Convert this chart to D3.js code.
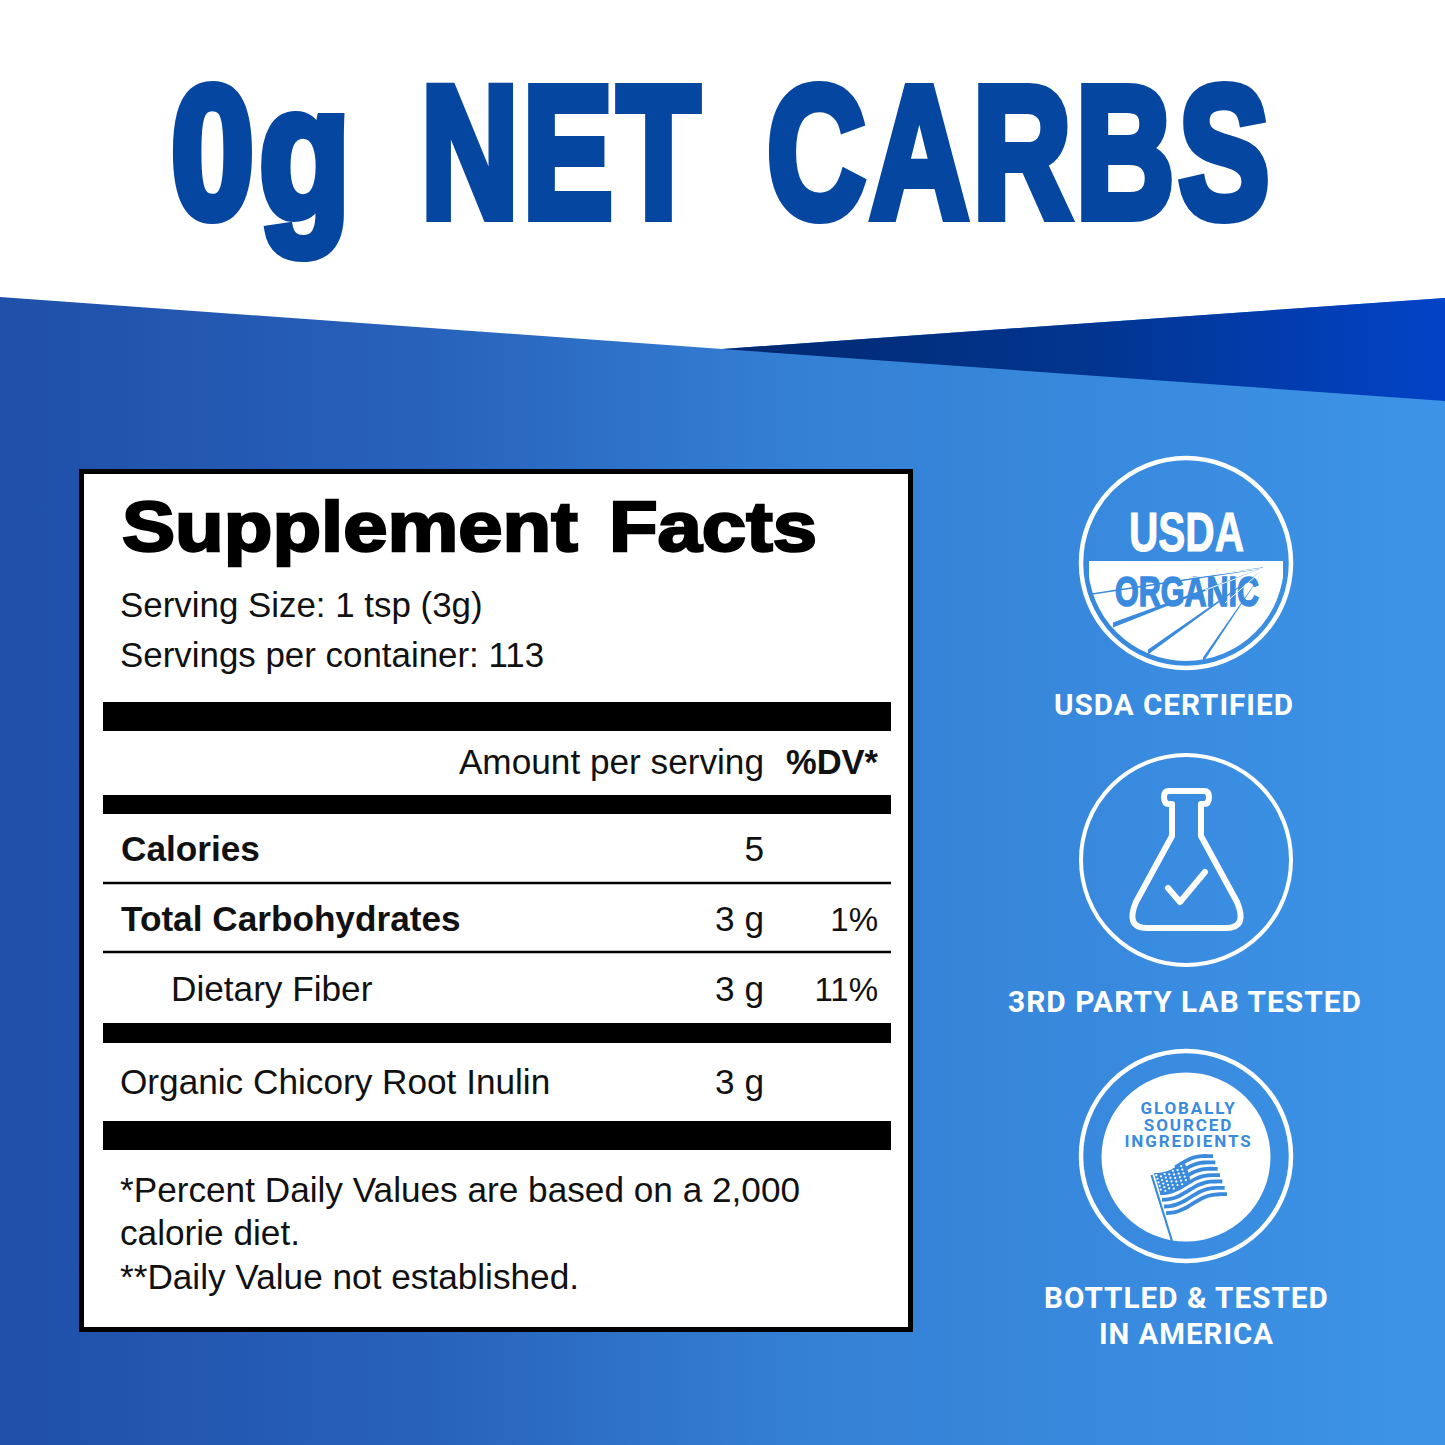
<!DOCTYPE html>
<html>
<head>
<meta charset="utf-8">
<script src="https://cdn.jsdelivr.net/npm/d3@7"></script>
<style>
html, body { margin: 0; padding: 0; background: #fff; }
svg { display: block; }
</style>
</head>
<body>
<div id="chart"></div>
<script>
// values
var headlineWords = ["0g", "NET", "CARBS"];
var panelTitle = "Supplement Facts";
var servingLines = ["Serving Size: 1 tsp (3g)", "Servings per container: 113"];
var rowLabels = ["Calories", "Total Carbohydrates", "Dietary Fiber", "Organic Chicory Root Inulin"];
var rowAmounts = ["5", "3 g", "3 g", "3 g"];
var rowDv = ["", "1%", "11%", ""];
var rowBold = [true, true, false, false];
var footnotes = ["*Percent Daily Values are based on a 2,000", "calorie diet.", "**Daily Value not established."];
var badgeCaptions = [["USDA CERTIFIED"], ["3RD PARTY LAB TESTED"], ["BOTTLED & TESTED", "IN AMERICA"]];
var globalLines = ["GLOBALLY", "SOURCED", "INGREDIENTS"];

var size = 1445;
var sans = "'Liberation Sans', Arial, sans-serif";
var narrow = "'Liberation Sans Narrow', 'Liberation Sans', sans-serif";
var svg = d3.select("#chart").append("svg").attr("width", size).attr("height", size)
  .attr("font-family", sans);
var defs = svg.append("defs");

function gradient(id, x1, y1, x2, y2, stops) {
  var g = defs.append("linearGradient").attr("id", id)
    .attr("gradientUnits", "userSpaceOnUse")
    .attr("x1", x1).attr("y1", y1).attr("x2", x2).attr("y2", y2);
  stops.forEach(function(s) {
    g.append("stop").attr("offset", s[0]).attr("stop-color", s[1]);
  });
}
gradient("bg", 0, 800, 1445, 800, [[0, "#1f4fa9"], [0.3, "#2862bb"], [0.55, "#3480d5"], [1, "#3d94e7"]]);
gradient("wedge", 722, 350, 1445, 350, [[0, "#01286f"], [0.5, "#02358f"], [1, "#0243c7"]]);

// squeeze a text to a measured width, keeps its box honest
function fit(sel, x, y, w) {
  sel.each(function() {
    var n = this.getComputedTextLength();
    d3.select(this).attr("transform", "translate(" + x + "," + y + ") scale(" + (w / n) + ",1)");
  });
  return sel;
}

// background and white header
svg.append("rect").attr("width", size).attr("height", size).attr("fill", "url(#bg)");
svg.append("path").attr("d", "M0,0H1445V298L722,349L0,297Z").attr("fill", "#fff");
svg.append("path").attr("d", "M722,349L1445,298V401Z").attr("fill", "url(#wedge)");

// headline
var headX = d3.scaleOrdinal().domain(headlineWords).range([171, 421, 767]);
var headW = d3.scaleOrdinal().domain(headlineWords).range([184, 283, 507]);
headlineWords.forEach(function(w) {
  svg.append("text")
    .attr("font-family", narrow)
    .attr("font-weight", 700)
    .attr("font-size", 187)
    .attr("letter-spacing", 6)
    .attr("fill", "#0546a0")
    .attr("stroke", "#0546a0")
    .attr("stroke-width", 10)
    .attr("stroke-linejoin", "miter")
    .text(w)
    .call(fit, headX(w), 217, headW(w));
});

// facts panel
svg.append("rect").attr("x", 81.5).attr("y", 471.5).attr("width", 829).attr("height", 858)
  .attr("fill", "#fff").attr("stroke", "#000").attr("stroke-width", 5);

svg.append("text")
  .attr("font-size", 70).attr("font-weight", 700).attr("fill", "#000")
  .attr("word-spacing", 8)
  .attr("stroke", "#000").attr("stroke-width", 2.4)
  .text(panelTitle)
  .call(fit, 122, 551, 695);

var serveY = d3.scaleLinear().domain([0, 1]).range([617, 667]);
svg.selectAll(".serve").data(servingLines).enter().append("text")
  .attr("class", "serve").attr("x", 120)
  .attr("y", function(d, i) { return serveY(i); })
  .attr("font-size", 34.9).attr("fill", "#111")
  .text(function(d) { return d; });

// black rules
[[702, 29], [795, 19], [1023, 20], [1121, 29]].forEach(function(b) {
  svg.append("rect").attr("x", 103).attr("y", b[0]).attr("width", 788).attr("height", b[1]).attr("fill", "#000");
});
[883, 952].forEach(function(y) {
  svg.append("rect").attr("x", 103).attr("y", y - 1.25).attr("width", 788).attr("height", 2.5).attr("fill", "#000");
});

svg.append("text").attr("x", 764).attr("y", 774).attr("text-anchor", "end")
  .attr("font-size", 35.2).attr("fill", "#111").text("Amount per serving");
svg.append("text").attr("x", 878).attr("y", 774).attr("text-anchor", "end")
  .attr("font-size", 34.5).attr("font-weight", 700).attr("fill", "#111").text("%DV*");

// table rows
var rowY = d3.scaleLinear().domain([0, 1]).range([861, 931]);
function yRow(i) { return rowY(i) + (i === 3 ? 23 : 0); }
var rows = svg.selectAll(".row").data(rowLabels).enter().append("g").attr("class", "row");
rows.append("text")
  .attr("x", function(d, i) { return i === 2 ? 171 : (i === 3 ? 120 : 121); })
  .attr("y", function(d, i) { return yRow(i); })
  .attr("font-size", 35.2)
  .attr("font-weight", function(d, i) { return rowBold[i] ? 700 : 400; })
  .attr("fill", "#111")
  .text(function(d) { return d; });
rows.append("text").attr("x", 764).attr("text-anchor", "end")
  .attr("y", function(d, i) { return yRow(i); })
  .attr("font-size", 35.2).attr("fill", "#111")
  .text(function(d, i) { return rowAmounts[i]; });
rows.append("text").attr("x", 878).attr("text-anchor", "end")
  .attr("y", function(d, i) { return yRow(i); })
  .attr("font-size", 33).attr("fill", "#111")
  .text(function(d, i) { return rowDv[i]; });

var noteY = d3.scaleLinear().domain([0, 2]).range([1202, 1288.5]);
svg.selectAll(".note").data(footnotes).enter().append("text")
  .attr("class", "note").attr("x", 120)
  .attr("y", function(d, i) { return noteY(i); })
  .attr("font-size", 35.2).attr("fill", "#111")
  .text(function(d) { return d; });

// badge rings
[[1186, 563, 105, 4.5], [1186, 860, 105, 4], [1186, 1156, 105, 4.5]].forEach(function(c) {
  svg.append("circle").attr("cx", c[0]).attr("cy", c[1]).attr("r", c[2])
    .attr("fill", "none").attr("stroke", "#fff").attr("stroke-width", c[3]);
});

// usda seal
var blue = "#3a8bde";
defs.append("clipPath").attr("id", "field").append("path")
  .attr("d", "M1089,561H1283V670H1089Z");
svg.append("circle").attr("cx", 1186).attr("cy", 563).attr("r", 98)
  .attr("fill", "#fff").attr("clip-path", "url(#field)");
// furrows: tapered wedges running up to the horizon
[
  [1263, 568, 1113, 625, 5],
  [1263, 570, 1148, 652, 5],
  [1262, 573, 1203, 660, 5]
].forEach(function(f) {
  svg.append("path")
    .attr("d", "M" + f[0] + "," + f[1] + "L" + f[2] + "," + (f[3] - f[4] / 2) + "L" + f[2] + "," + (f[3] + f[4] / 2) + "Z")
    .attr("fill", blue).attr("clip-path", "url(#field)");
});
svg.append("line").attr("x1", 1263).attr("y1", 568).attr("x2", 1092).attr("y2", 594)
  .attr("stroke", blue).attr("stroke-width", 1.5).attr("clip-path", "url(#field)");
svg.append("text")
  .attr("font-family", narrow)
  .attr("font-weight", 700).attr("font-size", 56).attr("fill", "#fff")
  .attr("stroke", "#fff").attr("stroke-width", 1)
  .text("USDA")
  .call(fit, 1129, 551, 115);
svg.append("text")
  .attr("font-family", narrow)
  .attr("font-weight", 700).attr("font-size", 43).attr("fill", blue)
  .attr("stroke", blue).attr("stroke-width", 1.6)
  .text("ORGANIC")
  .call(fit, 1115, 606, 144);
// pale rays crossing the word
[[1180, 579], [1205, 590], [1225, 603]].forEach(function(r) {
  svg.append("line").attr("x1", 1265).attr("y1", 568).attr("x2", r[0]).attr("y2", r[1])
    .attr("stroke", "#fff").attr("stroke-width", 1);
});

// flask
svg.append("path")
  .attr("d", "M1172,804V836L1136,902Q1125,928 1147,928H1226Q1248,928 1237,902L1201,836V804H1204Q1209,804 1209,797Q1209,791 1204,791H1169Q1164,791 1164,797Q1164,804 1169,804Z")
  .attr("fill", "none").attr("stroke", "#fff").attr("stroke-width", 6).attr("stroke-linejoin", "round");
svg.append("path").attr("d", "M1168,888L1180,902L1205,872")
  .attr("fill", "none").attr("stroke", "#fff").attr("stroke-width", 6).attr("stroke-linecap", "round").attr("stroke-linejoin", "round");

// globally sourced disc
svg.append("circle").attr("cx", 1186).attr("cy", 1157).attr("r", 84.5).attr("fill", "#fff");
var globalY = d3.scaleLinear().domain([0, 2]).range([1114, 1147]);
svg.selectAll(".global").data(globalLines).enter().append("text")
  .attr("class", "global").attr("x", 1188.5).attr("text-anchor", "middle")
  .attr("y", function(d, i) { return globalY(i); })
  .attr("font-family", "Roboto, sans-serif").attr("font-weight", 700)
  .attr("font-size", 17).attr("letter-spacing", 1.9).attr("fill", blue)
  .text(function(d) { return d; });

// flag, warped between a top and bottom edge
function flagPoint(u, v) {
  var wave = 3 * Math.sin(u * Math.PI * 2 + 0.4);
  var x = 1154 + 59 * u + v * (12 + 2 * u);
  var y = 1172 - 17 * u + wave + v * (40 - 2 * u);
  return [x, y];
}
var flagLine = d3.line().curve(d3.curveCatmullRom);
d3.range(7).forEach(function(s) {
  var v = s / 6;
  var start = s < 3 ? 0.36 : 0;
  var pts = d3.range(0, 1.01, 0.1).map(function(t) { return flagPoint(start + (1 - start) * t, v); });
  svg.append("path").attr("d", flagLine(pts)).attr("fill", "none").attr("stroke", blue).attr("stroke-width", 3.8);
});
var canton = d3.range(0, 1.01, 0.1).map(function(t) { return flagPoint(0.5 * t, 0); })
  .concat(d3.range(0, 1.01, 0.1).map(function(t) { return flagPoint(0.5 * (1 - t), 0.5); }));
svg.append("path").attr("d", flagLine(canton) + "Z").attr("fill", blue);
d3.range(0.03, 0.49, 0.07).forEach(function(u, i) {
  d3.range(0.05, 0.48, 0.09).forEach(function(v) {
    var p = flagPoint(u, v + (i % 2) * 0.04);
    svg.append("circle").attr("cx", p[0]).attr("cy", p[1]).attr("r", 1.1).attr("fill", "#fff");
  });
});
svg.append("line").attr("x1", 1151.5).attr("y1", 1175).attr("x2", 1172).attr("y2", 1241)
  .attr("stroke", blue).attr("stroke-width", 2.2);

// captions
var capX = [[1054], [1008], [1044, 1099]];
var capW = [[240], [354], [285, 175]];
var capY = [[715], [1012], [1308, 1344]];
badgeCaptions.forEach(function(lines, i) {
  lines.forEach(function(t, j) {
    svg.append("text")
      .attr("font-family", "Roboto, sans-serif").attr("font-weight", 700)
      .attr("font-size", 29.5).attr("letter-spacing", 1).attr("fill", "#fff")
      .text(t)
      .call(fit, capX[i][j], capY[i][j], capW[i][j]);
  });
});
</script>
</body>
</html>
